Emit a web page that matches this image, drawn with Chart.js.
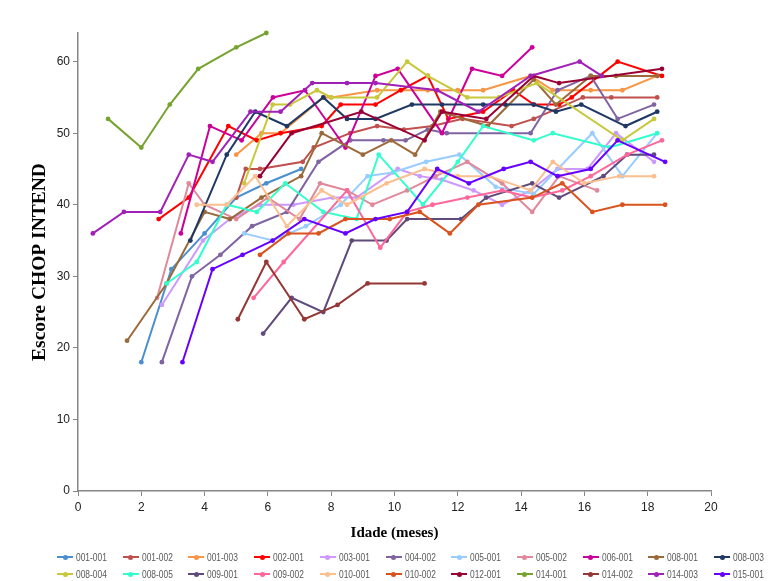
<!DOCTYPE html>
<html><head><meta charset="utf-8">
<script src="https://cdn.jsdelivr.net/npm/chart.js@4/dist/chart.umd.min.js"></script>
<style>
html,body{margin:0;padding:0;background:#fff;}
#wrap{position:relative;width:768px;height:581px;overflow:hidden;}
#c{position:absolute;left:0;top:0;}
.lg{position:absolute;height:12px;font:10.5px "Liberation Sans",sans-serif;color:#595959;white-space:nowrap;line-height:12px;}
.lg i{position:absolute;left:0;top:5px;width:16px;height:2px;}
.lg b{position:absolute;left:5.5px;top:3.5px;width:5px;height:5px;border-radius:50%;}
.lg span{position:absolute;left:19px;top:0;transform:scaleX(0.8);transform-origin:0 50%;}
</style></head><body>
<div id="wrap"><canvas id="c" width="768" height="581"></canvas><div id="legend"></div></div>
<script>
// ---- data (age in months, CHOP INTEND score) ----
const seriesNames = ["001-001","001-002","001-003","002-001","003-001","004-002","005-001","005-002","006-001","008-001","008-003",
                     "008-004","008-005","009-001","009-002","010-001","010-002","012-001","014-001","014-002","014-003","015-001"];

const x001_001 = [2.0,2.95,4.0,5.0,5.95,7.05];
const y001_001 = [18,31,36,41,43,45];
const x001_002 = [5.0,5.3,5.75,7.1,7.45,8.6,9.45,10.3,11.2,12.15,13.7,14.4,15.95,16.85,18.3];
const y001_002 = [41,45,45,46,48,50,51,50.5,51,52,51,52,55,55,55];
const x001_003 = [5.0,5.8,6.4,7.75,8.0,9.45,11.05,12.0,12.8,14.3,15.0,16.2,17.2,18.3];
const y001_003 = [47,50,50,55,55,56,56,56,56,58,56,56,56,58];
const x002_001 = [2.55,3.5,4.75,5.65,6.4,7.7,8.3,9.4,10.2,11.05,11.7,12.8,13.75,14.4,15.2,15.6,17.05,18.45];
const y002_001 = [38,41,51,49,50,51,54,54,56,58,52,53,56,54,54,55,60,58];
const x003_001 = [2.65,3.95,4.8,5.75,6.8,8.05,8.8,10.1,10.8,11.5,12.5,13.4,14.3,15.15,16.1,17.0,18.2];
const y003_001 = [26,35,38,40,40,41,41,45,44,43.5,42,40,42,45,45,50,46];
const x004_002 = [2.65,3.6,4.5,5.5,6.6,7.6,8.6,9.65,10.35,11.05,11.65,14.3,15.15,16.2,17.05,18.2];
const y004_002 = [18,30,33,37,39,46,49,49,49,50.5,50,50,56,58,52,54];
const x005_001 = [5.25,6.15,7.2,8.3,9.15,9.95,11.0,12.05,13.2,14.4,16.25,17.2,18.3];
const y005_001 = [36,35,37,40,44,44.5,46,47,42.5,41.5,50,44,50];
const x005_002 = [2.5,3.5,4.0,5.0,6.0,7.0,7.65,8.5,9.3,10.4,11.3,12.3,13.4,14.35,15.2,16.4];
const y005_002 = [27,43,40,38,41,38,43,42,40,42,44,46,43,39,44,42];
const x006_001 = [3.25,4.17,5.17,6.16,7.17,8.45,9.4,10.1,11.5,12.45,13.4,14.35];
const y006_001 = [36,51,49,55,56,48,58,59,50,59,58,62];
const x008_001 = [1.55,2.8,4.0,4.8,5.8,7.05,7.7,9.0,9.9,10.65,11.45,12.95,14.4,15.1,16.2,17.0,18.3];
const y008_001 = [21,29,39,38,41,44,50,47,49,47,53,51,57.5,54,58,58,58];
const x008_003 = [3.55,4.7,5.6,6.6,7.75,8.5,9.4,10.55,11.5,12.8,13.5,14.4,15.1,15.9,17.3,18.3];
const y008_003 = [35,47,53,51,55,52,52,54,54,54,54,54,53,54,51,53];
const x008_004 = [5.25,6.15,6.7,7.55,8.0,9.45,10.4,11.05,12.3,13.3,14.5,17.2,18.2];
const y008_004 = [43,54,54,56,55,55,60,58,55,55,57,49,52];
const x008_005 = [2.8,3.75,4.7,5.65,6.55,7.75,8.8,9.5,10.9,12.0,12.8,14.4,15.0,16.8,18.3];
const y008_005 = [29,32,40,39,43,39,38,47,40,46,51,49,50,48,50];
const x009_001 = [5.85,6.75,7.75,8.65,9.75,10.4,12.1,12.9,14.35,15.2,16.6,17.35,18.2];
const y009_001 = [22,27,25,35,35,38,38,41,43,41,44,47,47];
const x009_002 = [5.55,6.5,8.5,9.55,10.4,11.2,12.3,13.4,14.35,15.3,16.2,17.35,18.45];
const y009_002 = [27,32,42,34,39,40,41,42,41,42,44,47,49];
const x010_001 = [3.75,4.7,5.6,6.6,7.7,8.5,9.75,10.95,12.0,13.0,14.3,15.0,16.0,17.1,18.2];
const y010_001 = [40,40,44,37,42,40,43,45,44,44,42,46,43,44,44];
const x010_002 = [5.75,6.65,7.6,8.45,9.85,10.8,11.75,12.65,14.35,15.3,16.25,17.2,18.55];
const y010_002 = [33,36,36,38,38,39,36,40,41,43,39,40,40];
const x012_001 = [5.75,6.75,8.95,10.95,11.5,12.9,14.4,15.2,18.45];
const y012_001 = [44,50,53,49,53,52,58,57,59];
const x014_001 = [0.95,2.0,2.9,3.8,5.0,5.95];
const y014_001 = [52,48,54,59,62,64];
const x014_002 = [5.05,5.95,7.15,8.2,9.15,10.95];
const y014_002 = [24,32,24,26,29,29];
const x014_003 = [0.47,1.45,2.6,3.5,4.25,5.45,6.4,7.4,8.5,9.4,11.35,12.65,14.3,15.85,16.55];
const y014_003 = [36,39,39,47,46,53,53,57,57,57,56,53,58,60,58];
const x015_001 = [3.3,4.25,5.2,6.15,7.15,8.45,9.4,10.4,11.35,12.35,13.45,14.3,15.15,16.2,17.05,18.55];
const y015_001 = [18,31,33,35,38,36,38,39,45,43,45,46,44,45,49,46];

const xTicks = [0,2,4,6,8,10,12,14,16,18,20];
const yTicks = [0,10,20,30,40,50,60];

// ---- styles ----
const seriesColors = ["#4a8fcf","#c0504d","#f79646","#ff0000","#cc99ff","#8064a2","#99ccff","#e0899a","#cc0099","#9c6a3a","#1f3864",
                      "#c8c83c","#33ffcc","#604a7b","#ff6699","#fac090","#d9531e","#990033","#77a32f","#953735","#a020b8","#6600ff"];

const seriesX = [x001_001,x001_002,x001_003,x002_001,x003_001,x004_002,x005_001,x005_002,x006_001,x008_001,x008_003,
                 x008_004,x008_005,x009_001,x009_002,x010_001,x010_002,x012_001,x014_001,x014_002,x014_003,x015_001];
const seriesY = [y001_001,y001_002,y001_003,y002_001,y003_001,y004_002,y005_001,y005_002,y006_001,y008_001,y008_003,
                 y008_004,y008_005,y009_001,y009_002,y010_001,y010_002,y012_001,y014_001,y014_002,y014_003,y015_001];

const n = seriesNames.length;
const datasets = seriesNames.map((name,i)=>({
  label: name,
  data: seriesX[i].map((x,k)=>({x:x, y:seriesY[i][k]})),
  borderColor: seriesColors[i],
  backgroundColor: seriesColors[i],
  borderWidth: 2,
  pointRadius: 2.4,
  pointHoverRadius: 2.4,
  pointBorderWidth: 0,
  showLine: true,
  tension: 0,
  clip: false,
  order: n - i
}));

const tickFont = {family: '"Liberation Sans Narrow","Arial Narrow","Liberation Sans",sans-serif', size: 12};
const titleFontFamily = '"Liberation Serif","Times New Roman",serif';

new Chart(document.getElementById('c'), {
  type: 'scatter',
  data: {datasets},
  options: {
    responsive: false,
    animation: false,
    devicePixelRatio: 1,
    layout: {padding: {left: 0, right: 57, top: 33, bottom: 0}},
    plugins: {legend: {display: false}, tooltip: {enabled: false}},
    events: [],
    scales: {
      x: {
        type: 'linear', min: 0, max: 20,
        afterBuildTicks: s => { s.ticks = xTicks.map(v => ({value: v})); },
        afterFit: s => { s.height = 90; },
        ticks: {font: tickFont, color: '#222', padding: 4, maxRotation: 0},
        grid: {display: true, drawOnChartArea: false, drawTicks: true, tickLength: 5, color: '#868686'},
        border: {display: true, color: '#868686', width: 1.5},
        title: {display: true, text: 'Idade (meses)', color: '#000',
                font: {family: titleFontFamily, size: 15, weight: 'bold'}, padding: {top: 0, bottom: 39}}
      },
      y: {
        type: 'linear', min: 0, max: 64,
        afterBuildTicks: s => { s.ticks = yTicks.map(v => ({value: v})); },
        afterFit: s => { s.width = 78; },
        ticks: {font: tickFont, color: '#222', padding: 3},
        grid: {display: true, drawOnChartArea: false, drawTicks: true, tickLength: 5, color: '#868686'},
        border: {display: true, color: '#868686', width: 1.5},
        title: {display: true, text: 'Escore CHOP INTEND', color: '#000',
                font: {family: titleFontFamily, size: 19.5, weight: 'bold'}, padding: {top: 28, bottom: 0}}
      }
    }
  }
});

// ---- legend (HTML, two rows) ----
const lg = document.getElementById('legend');
seriesNames.forEach((name,i)=>{
  const row = Math.floor(i/11), col = i % 11;
  const cx = 65 + 65.7*col;
  const cy = row === 0 ? 557 : 574;
  const d = document.createElement('div');
  d.className = 'lg';
  d.style.left = (cx - 8) + 'px';
  d.style.top = (cy - 6) + 'px';
  d.innerHTML = '<i style="background:'+seriesColors[i]+'"></i><b style="background:'+seriesColors[i]+'"></b><span>'+name+'</span>';
  lg.appendChild(d);
});
</script>
</body></html>
